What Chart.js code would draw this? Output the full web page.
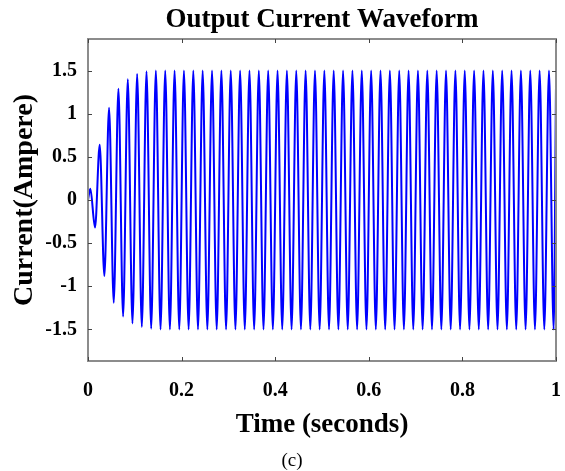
<!DOCTYPE html>
<html>
<head>
<meta charset="utf-8">
<script src="https://cdn.jsdelivr.net/npm/chart.js@4.4.1/dist/chart.umd.min.js"></script>
<style>
  html, body { margin: 0; padding: 0; background: #ffffff; }
  #wrap { position: relative; width: 565px; height: 471px; }
  canvas { display: block; }
</style>
</head>
<body>
<div id="wrap"><canvas id="c" width="565" height="471"></canvas></div>
<script>
// ---- Data ----
const titleText = 'Output Current Waveform';
const xTitle = 'Time (seconds)';
const yTitle = 'Current(Ampere)';
const caption = '(c)';

const xTicks = [0, 0.2, 0.4, 0.6, 0.8, 1];
const xTickLabels = ['0', '0.2', '0.4', '0.6', '0.8', '1'];
const yTicks = [-1.5, -1, -0.5, 0, 0.5, 1, 1.5];
const yTickLabels = ['-1.5', '-1', '-0.5', '0', '0.5', '1', '1.5'];

// positive extrema of each cycle (one per 0.02 s, first at 0.005 s)
const posPeaks = [0.13, 0.64, 1.07, 1.29, 1.40, 1.46, 1.49, 1.50, 1.50, 1.50,
                  1.50, 1.50, 1.50, 1.50, 1.50, 1.50, 1.50, 1.50, 1.50, 1.50,
                  1.50, 1.50, 1.50, 1.50, 1.50, 1.50, 1.50, 1.50, 1.50, 1.50,
                  1.50, 1.50, 1.50, 1.50, 1.50, 1.50, 1.50, 1.50, 1.50, 1.50,
                  1.50, 1.50, 1.50, 1.50, 1.50, 1.50, 1.50, 1.50, 1.50, 1.50];
// negative extrema of each cycle (one per 0.02 s, first at 0.015 s)
const negPeaks = [-0.32, -0.88, -1.19, -1.35, -1.43, -1.47, -1.49, -1.50, -1.50, -1.50,
                  -1.50, -1.50, -1.50, -1.50, -1.50, -1.50, -1.50, -1.50, -1.50, -1.50,
                  -1.50, -1.50, -1.50, -1.50, -1.50, -1.50, -1.50, -1.50, -1.50, -1.50,
                  -1.50, -1.50, -1.50, -1.50, -1.50, -1.50, -1.50, -1.50, -1.50, -1.50,
                  -1.50, -1.50, -1.50, -1.50, -1.50, -1.50, -1.50, -1.50, -1.50, -1.50];
const startPoint = { t: 0, v: 0 };
const endPoint = { t: 1, v: 1.33 };
const halfPeriod = 0.01;   // time between successive extrema
const firstPeakTime = 0.005;

// ---- Build the series from the arrays ----
const points = [{ x: startPoint.t, y: startPoint.v }];
for (let i = 0; i < posPeaks.length; i++) {
  points.push({ x: firstPeakTime + 2 * i * halfPeriod, y: posPeaks[i] });
  points.push({ x: firstPeakTime + (2 * i + 1) * halfPeriod, y: negPeaks[i] });
}
points.push({ x: endPoint.t, y: endPoint.v });

const FONT = '"Liberation Serif", "Times New Roman", serif';

const framePlugin = {
  id: 'frame',
  afterDatasetsDraw(chart) {
    const { ctx, chartArea: a, scales: { x, y } } = chart;
    ctx.save();
    ctx.strokeStyle = '#8c8c8c';
    ctx.lineWidth = 2;
    ctx.strokeRect(a.left, a.top, a.right - a.left, a.bottom - a.top);
    ctx.strokeStyle = '#444444';
    ctx.lineWidth = 1;
    const tl = 4;
    xTicks.forEach(v => {
      const px = Math.round(x.getPixelForValue(v)) + 0.5;
      ctx.beginPath();
      ctx.moveTo(px, a.bottom); ctx.lineTo(px, a.bottom - tl);
      ctx.moveTo(px, a.top); ctx.lineTo(px, a.top + tl);
      ctx.stroke();
    });
    yTicks.forEach(v => {
      const py = Math.round(y.getPixelForValue(v)) + 0.5;
      ctx.beginPath();
      ctx.moveTo(a.left, py); ctx.lineTo(a.left + tl, py);
      ctx.moveTo(a.right, py); ctx.lineTo(a.right - tl, py);
      ctx.stroke();
    });
    ctx.restore();
  },
  afterDraw(chart) {
    const { ctx, chartArea: a } = chart;
    const cx = (a.left + a.right) / 2;
    ctx.save();
    ctx.fillStyle = '#000000';
    ctx.textAlign = 'center';
    ctx.textBaseline = 'middle';
    ctx.font = 'bold 27px ' + FONT;
    ctx.fillText(titleText, cx, 20);
    ctx.fillText(xTitle, cx, 425);
    ctx.save();
    ctx.font = 'bold 28px ' + FONT;
    ctx.translate(25, (a.top + a.bottom) / 2);
    ctx.rotate(-Math.PI / 2);
    ctx.fillText(yTitle, 0, 0);
    ctx.restore();
    ctx.font = '19px ' + FONT;
    ctx.fillText(caption, 292, 461);
    ctx.restore();
  }
};

new Chart(document.getElementById('c'), {
  type: 'line',
  data: {
    datasets: [{
      data: points,
      borderColor: '#0000ff',
      borderWidth: 2,
      pointRadius: 0,
      fill: false,
      cubicInterpolationMode: 'monotone'
    }]
  },
  options: {
    responsive: false,
    animation: false,
    devicePixelRatio: 1,
    layout: { padding: { top: 39, right: 9, left: 0, bottom: 0 } },
    plugins: { legend: { display: false }, tooltip: { enabled: false }, title: { display: false } },
    scales: {
      x: {
        type: 'linear',
        min: 0, max: 1,
        afterBuildTicks(s) { s.ticks = xTicks.map(v => ({ value: v })); },
        afterFit(s) { s.height = 110; s.paddingLeft = 0; s.paddingRight = 0; },
        grid: { display: false, drawTicks: false },
        border: { display: false },
        ticks: {
          padding: 18,
          color: '#000000',
          font: { family: FONT, size: 20, weight: 'bold' },
          maxRotation: 0,
          callback(v) { const i = xTicks.indexOf(v); return i >= 0 ? xTickLabels[i] : ''; }
        }
      },
      y: {
        type: 'linear',
        min: -1.865, max: 1.865,
        afterBuildTicks(s) { s.ticks = yTicks.map(v => ({ value: v })); },
        afterFit(s) { s.width = 88; s.paddingTop = 0; s.paddingBottom = 0; },
        grid: { display: false, drawTicks: false },
        border: { display: false },
        ticks: {
          padding: 11,
          color: '#000000',
          font: { family: FONT, size: 20, weight: 'bold' },
          callback(v) { const i = yTicks.indexOf(v); return i >= 0 ? yTickLabels[i] : ''; }
        }
      }
    }
  },
  plugins: [framePlugin]
});
</script>
</body>
</html>
